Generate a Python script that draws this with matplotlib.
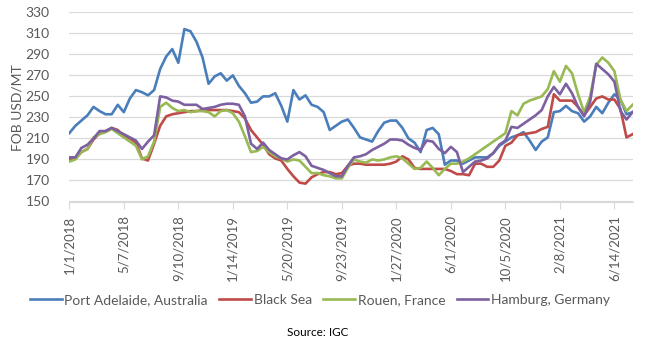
import pandas as pd
import matplotlib.pyplot as plt

# FOB wheat prices, read every 14 days from 1/1/2018
dates = pd.date_range("2018-01-01", periods=94, freq="14D")

port_adelaide = [215, 222, 227, 232, 240, 236, 233, 233, 242, 235, 248, 256, 254, 251, 256, 276, 288, 295, 282, 314, 312, 302, 287, 262, 269,
                 272, 265, 270, 260, 253, 244, 245, 250, 250, 253, 241, 226, 256, 247, 251, 242, 240, 235, 218, 222, 226, 228, 220,
                 211, 209, 207, 217, 225, 227, 227, 220, 210, 206, 197, 218, 220, 214, 185, 189, 189, 186, 189, 192, 192, 192, 196,
                 203, 207, 211, 213, 216, 208, 199, 207, 211, 235, 236, 241, 236, 234, 226, 231, 240, 234, 244, 252, 247, 233, 235]
black_sea = [190, 191, 197, 200, 209, 215, 217, 220, 218, 212, 210, 206, 191, 189, 205, 222, 231, 233, 234, 235, 236, 236, 237, 237, 237,
             237, 237, 236, 235,
             229, 218, 211, 204, 195, 191, 189, 181, 174, 168, 167, 173, 176, 178, 178, 176, 177, 184, 186,
             186, 185, 185, 185, 185, 186, 188, 193, 190, 182, 181, 181, 181, 181, 181, 179, 176, 176, 175, 186, 186, 183, 183,
             189, 203, 206, 213, 214, 215, 216, 219, 221, 252, 246, 246, 246, 240, 232, 240, 248, 250, 247, 247, 238, 211, 214]
rouen = [188, 190, 197, 200, 211, 214, 216, 219, 215, 211, 207, 203, 190, 193, 207, 240, 244, 239, 236, 237, 235, 236, 236, 235, 231,
         236, 237, 234,
         226, 212, 197, 198, 202, 197, 193, 191, 188, 190, 189, 183, 177, 177, 175, 174, 172, 172, 182, 190,
         188, 187, 190, 189, 190, 192, 193, 191, 186, 181, 182, 188, 182, 175, 181, 186, 186, 188, 191, 195, 199, 203, 207,
         211, 215, 236, 232, 243, 246, 248, 250, 257, 274, 264, 279, 272, 252, 235, 250, 280, 287, 282, 274, 247, 236, 242]
hamburg = [192, 192, 201, 204, 210, 217, 217, 220, 217, 214, 211, 208, 200, 207, 213, 250, 249, 246, 245, 242, 242, 242, 238, 239, 240,
           242, 243, 243, 242,
           231, 205, 200, 206, 199, 195, 191, 190, 194, 197, 193, 184, 182, 180, 177, 174, 174, 184, 192,
           193, 195, 199, 202, 205, 209, 209, 208, 204, 201, 199, 208, 207, 200, 196, 202, 197, 178, 183, 188, 189, 191, 196,
           204, 208, 221, 220, 224, 228, 232, 237, 250, 259, 252, 262, 253, 240, 231, 245, 281, 276, 271, 264, 236, 228, 235]

series_names = ["Port Adelaide, Australia", "Black Sea", "Rouen, France", "Hamburg, Germany"]
colors = ["#4A7EBB", "#BE4B48", "#98B954", "#7D60A0"]

tick_dates = pd.date_range("2018-01-01", periods=11, freq="126D")
tick_labels = [f"{d.month}/{d.day}/{d.year}" for d in tick_dates]

plt.rcParams["font.family"] = ["Lato", "DejaVu Sans"]

fig = plt.figure(figsize=(6.56, 3.44), dpi=100)
ax = fig.add_axes([69.3 / 656, 1 - 201.5 / 344, (633 - 69.3) / 656, (201.5 - 12.3) / 344])

lines = []
for vals, name, c in zip([port_adelaide, black_sea, rouen, hamburg], series_names, colors):
    ln, = ax.plot(dates, vals, color=c, lw=1.9, label=name, solid_joinstyle="round")
    lines.append(ln)

ax.set_ylim(150, 330)
ax.set_yticks(range(150, 331, 20))
ax.set_xlim(dates[0], dates[0] + pd.Timedelta(days=1303))
ax.set_xticks(tick_dates)
ax.set_xticklabels(tick_labels, rotation=90, va="top", ha="center")

ax.grid(axis="y", color="#D9D9D9", lw=0.9)
ax.set_axisbelow(True)
for s in ["top", "right", "left"]:
    ax.spines[s].set_visible(False)
ax.spines["bottom"].set_color("#D9D9D9")
ax.tick_params(axis="y", length=0, pad=14, labelsize=10, labelcolor="#595959")
ax.tick_params(axis="x", length=5, color="#D9D9D9", pad=5, labelsize=9.5, labelcolor="#595959")

fig.text(18 / 656, 1 - 108 / 344, "FOB USD/MT", rotation=90, ha="center", va="center",
         fontsize=10, color="#595959")

fig.legend(handles=lines, loc="center", bbox_to_anchor=(320 / 656, 1 - 300 / 344), ncol=4,
           frameon=False, fontsize=10, handlelength=2.3, handletextpad=0.2, columnspacing=0.8,
           labelcolor="#595959")

fig.text(318 / 656, 1 - 333 / 344, "Source: IGC", ha="center", va="center", fontsize=8.5, color="black")

fig.savefig("out.png", dpi=100)
